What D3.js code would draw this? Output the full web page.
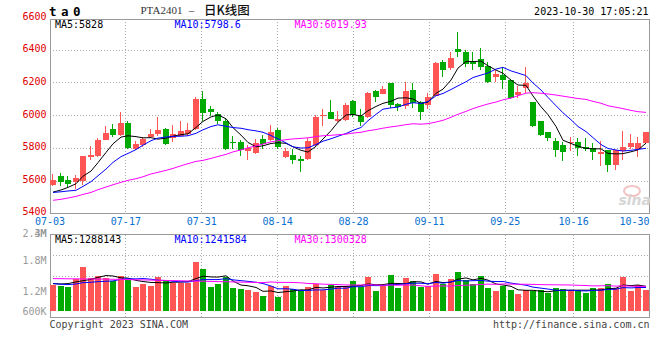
<!DOCTYPE html>
<html><head><meta charset="utf-8">
<script src="https://cdn.jsdelivr.net/npm/d3@7/dist/d3.min.js"></script>
<style>body{margin:0;background:#fff}svg{display:block}</style>
</head><body><svg id="c" width="660" height="360"></svg>
<script>
const dates = ["07-03","07-04","07-05","07-06","07-07","07-10","07-11","07-12","07-13","07-14",
"07-17","07-18","07-19","07-20","07-21","07-24","07-25","07-26","07-27","07-28",
"07-31","08-01","08-02","08-03","08-04","08-07","08-08","08-09","08-10","08-11",
"08-14","08-15","08-16","08-17","08-18","08-21","08-22","08-23","08-24","08-25",
"08-28","08-29","08-30","08-31","09-01","09-04","09-05","09-06","09-07","09-08",
"09-11","09-12","09-13","09-14","09-15","09-18","09-19","09-20","09-21","09-22",
"09-25","09-26","09-27","09-28","10-09","10-10","10-11","10-12","10-13","10-16",
"10-17","10-18","10-19","10-20","10-23","10-24","10-25","10-26","10-27","10-30"];
const opens = [5577,5632,5608,5591,5598,5744,5750,5852,5919,5883,
5954,5797,5822,5872,5889,5919,5862,5877,5889,5919,
6103,6041,6011,5970,5838,5838,5781,5771,5858,5848,
5913,5746,5760,5736,5736,5822,5995,6025,5964,5974,
6090,5999,5989,6151,6133,6198,6070,6056,6158,6086,
6062,6117,6329,6294,6406,6388,6337,6347,6306,6239,
6247,6215,6123,6168,6082,5964,5897,5846,5822,5832,
5838,5811,5801,5765,5787,5699,5781,5805,5797,5832];
const highs = [5644,5649,5632,5638,5754,5815,5862,5938,5950,6019,
5970,5842,5872,5917,5991,5925,5944,5970,5954,6111,
6151,6060,6019,5978,5877,5852,5822,5858,5883,5944,
5923,5801,5795,5750,5862,6005,6041,6096,6029,6080,
6095,6041,6147,6158,6182,6198,6076,6208,6198,6092,
6141,6327,6341,6392,6514,6402,6386,6416,6327,6280,
6296,6223,6184,6300,6086,5970,5897,5866,5836,5872,
5862,5866,5832,5842,5787,5787,5903,5889,5872,5901];
const lows = [5571,5567,5557,5551,5577,5726,5745,5848,5868,5873,
5795,5791,5811,5868,5877,5822,5836,5873,5877,5913,
5970,5995,5950,5787,5797,5750,5730,5767,5797,5842,
5795,5740,5706,5653,5730,5816,5934,5980,5958,5964,
5991,5934,5985,6086,6133,6046,6031,6039,6046,5974,
6039,6117,6239,6276,6361,6300,6276,6276,6198,6208,
6162,6100,6107,6141,5930,5873,5842,5744,5720,5781,
5750,5781,5730,5689,5653,5669,5730,5797,5744,5826];
const closes = [5604,5592,5583,5618,5750,5760,5852,5893,5883,5954,
5801,5826,5856,5889,5909,5828,5889,5903,5913,6103,
6015,6025,5964,5797,5830,5787,5801,5832,5826,5901,
5811,5781,5726,5720,5846,5989,6003,5980,5982,6066,
6003,5958,6141,6111,6162,6066,6054,6151,6076,6019,
6115,6320,6280,6353,6386,6314,6318,6296,6208,6257,
6215,6107,6147,6198,5934,5883,5866,5787,5775,5836,
5801,5797,5775,5775,5695,5787,5805,5832,5832,5901];
const volumes = [1331000,1311000,1278000,1442000,1678000,1462000,1501000,1462000,1396000,1501000,
1429000,1285000,1344000,1311000,1482000,1396000,1357000,1357000,1357000,1777000,
1632000,1285000,1344000,1482000,1259000,1239000,1219000,1180000,1101000,1298000,
1082000,1298000,1246000,1219000,1285000,1344000,1232000,1324000,1285000,1285000,
1396000,1278000,1482000,1200000,1298000,1521000,1265000,1462000,1396000,1278000,
1298000,1534000,1344000,1442000,1573000,1416000,1344000,1495000,1265000,1200000,
1311000,1219000,1147000,1219000,1200000,1219000,1167000,1259000,1246000,1219000,
1219000,1167000,1259000,1265000,1344000,1265000,1482000,1200000,1324000,1219000];
// moving-average values before a full window exists
const ma5Head = [5532,5545,5561,5583];
const ma10Head = [5530,5534,5539,5543,5567,5596,5632,5673,5714];
const ma30Head = [5482,5488,5496,5506,5518,5530,5547,5563,5577,5592,5604,5614,5626,5643,5653,
5665,5677,5693,5706,5720,5726,5738,5750,5763,5778,5790,5803,5815,5826];
const volMa5Head = [1351000,1344000,1351000,1384000];
const volMa10Head = [1351000,1338000,1331000,1344000,1370000,1377000,1390000,1397000,1403000];
const volMa30Head = [1449000,1447000,1445000,1444000,1442000,1441000,1439000,1438000,1436000,1433000,
1429000,1426000,1423000,1420000,1416000,1413000,1410000,1407000,1403000,1400000,
1397000,1394000,1390000,1387000,1384000,1380000,1377000,1374000,1370000];
const tickDates = ["07-03","07-17","07-31","08-14","08-28","09-11","09-25","10-16","10-30"];
const priceTicks = [6600,6400,6200,6000,5800,5600,5400];
const volTicks = [3000000,2400000,1800000,1200000,600000];
const volTickLabels = ["3M","2.4M","1.8M","1.2M","600K"];
const priceLegend = ["MA5:5828","MA10:5798.6","MA30:6019.93"];
const volLegend = ["MA5:1288143","MA10:1241584","MA30:1300328"];
const maColors = ["#000000","#0000ff","#ff00ff"];

const RED = "#ff5555", GREEN = "#00aa00";
const L = 50, R = 649.5;
const pTop = 19, pBottom = 213.7;
const vTop = 234.5, vBottom = 317.5, vBase = 311;
const MONO = "'DejaVu Sans Mono', monospace";

const svg = d3.select("#c");
const n = dates.length;
const xBand = d3.scaleBand().domain(d3.range(n)).range([L, 648.5]).paddingInner(0.2);
const xGrid = d3.scalePoint().domain(d3.range(n)).range([L, R]);
const yP = d3.scaleLinear().domain([5400, 6600]).range([213.7, 17.5]);
const yV = d3.scaleLinear().domain([0, 3000000]).range([352.5, 199.5]);

function movingAvg(arr, w, head) {
  return arr.map((v, i) => i < w - 1 ? head[i] : d3.mean(arr.slice(i - w + 1, i + 1)));
}
const priceMAs = [movingAvg(closes, 5, ma5Head), movingAvg(closes, 10, ma10Head), movingAvg(closes, 30, ma30Head)];
const volMAs = [movingAvg(volumes, 5, volMa5Head), movingAvg(volumes, 10, volMa10Head), movingAvg(volumes, 30, volMa30Head)];
const up = d3.range(n).map(i => closes[i] >= opens[i]);

const defs = svg.append("defs");
defs.append("clipPath").attr("id", "pc").append("rect").attr("x", L).attr("y", pTop).attr("width", R - L).attr("height", pBottom - pTop);
defs.append("clipPath").attr("id", "vc").append("rect").attr("x", L).attr("y", vTop).attr("width", R - L).attr("height", vBottom - vTop);

// grid
const gridIdx = tickDates.map(d => dates.indexOf(d)).filter(i => i > 0 && i < n - 1);
const grid = svg.append("g").attr("stroke", "#aaa").attr("stroke-dasharray", "1,2").attr("shape-rendering", "crispEdges");
gridIdx.forEach(i => {
  const gx = Math.floor(xGrid(i)) + 0.5;
  grid.append("line").attr("x1", gx).attr("x2", gx).attr("y1", pTop).attr("y2", pBottom);
  grid.append("line").attr("x1", gx).attr("x2", gx).attr("y1", vTop).attr("y2", vBottom);
});
priceTicks.slice(1, -1).forEach(v => {
  const gy = Math.floor(yP(v)) + 0.5;
  grid.append("line").attr("x1", L).attr("x2", R).attr("y1", gy).attr("y2", gy);
});
[1, 2, 3].forEach(k => {
  const gy = Math.floor(vTop + (vBottom - vTop) * k / 4) + 0.5;
  grid.append("line").attr("x1", L).attr("x2", R).attr("y1", gy).attr("y2", gy);
});

// borders
const bord = svg.append("g").attr("fill", "none").attr("stroke", "#999").attr("shape-rendering", "crispEdges");
bord.append("rect").attr("x", L + 0.5).attr("y", pTop + 0.5).attr("width", R - L - 1).attr("height", Math.round(pBottom - pTop) - 1);
bord.append("rect").attr("x", L + 0.5).attr("y", vTop).attr("width", R - L - 1).attr("height", vBottom - vTop);

// watermark
svg.append("ellipse").attr("cx", 632).attr("cy", 191).attr("rx", 8).attr("ry", 5).attr("fill", "none").attr("stroke", "#f2c2c2").attr("stroke-width", 2);
svg.append("text").attr("x", 651).attr("y", 205).attr("text-anchor", "end")
  .attr("font-family", "'DejaVu Sans', sans-serif").attr("font-size", 14).attr("font-weight", "bold").attr("font-style", "italic")
  .attr("fill", "#d6d6d6").text("sina");

// candles
const cg = svg.append("g").attr("clip-path", "url(#pc)");
d3.range(n).forEach(i => {
  const x = Math.round(xBand(i));
  const col = up[i] ? RED : GREEN;
  const top = Math.round(yP(Math.max(opens[i], closes[i])));
  const bot = Math.round(yP(Math.min(opens[i], closes[i])));
  cg.append("line").attr("x1", x + 2.5).attr("x2", x + 2.5).attr("y1", yP(highs[i])).attr("y2", yP(lows[i]))
    .attr("stroke", col).attr("stroke-width", 1).attr("shape-rendering", "crispEdges");
  cg.append("rect").attr("x", x).attr("y", top).attr("width", 6).attr("height", Math.max(1, bot - top))
    .attr("fill", col).attr("shape-rendering", "crispEdges");
});
const lineP = d3.line().x((d, i) => Math.round(xBand(i)) + 3).y(d => yP(d));
priceMAs.forEach((arr, k) => {
  cg.append("path").attr("d", lineP(arr)).attr("fill", "none").attr("stroke", maColors[k]).attr("stroke-width", 1);
});

// volume
const vg = svg.append("g").attr("clip-path", "url(#vc)");
d3.range(n).forEach(i => {
  const x = Math.round(xBand(i));
  const top = Math.round(yV(volumes[i]));
  vg.append("rect").attr("x", x).attr("y", top).attr("width", 6).attr("height", vBase - top)
    .attr("fill", up[i] ? RED : GREEN).attr("shape-rendering", "crispEdges");
});
const lineV = d3.line().x((d, i) => Math.round(xBand(i)) + 3).y(d => yV(d));
volMAs.forEach((arr, k) => {
  vg.append("path").attr("d", lineV(arr)).attr("fill", "none").attr("stroke", maColors[k]).attr("stroke-width", 1);
});

// axis labels
const txt = svg.append("g").attr("font-family", MONO).attr("font-size", 10);
priceTicks.forEach(v => {
  txt.append("text").attr("x", 46.5).attr("y", Math.min(yP(v) + 2, 214.5)).attr("text-anchor", "end").attr("fill", "#dd0000").text(v);
});
volTicks.forEach((v, k) => {
  // labels kept clear of the date row above the volume panel and of the panel floor
  const ly = Math.max(Math.min(yV(v), vBase), vTop - 1.5);
  txt.append("text").attr("x", 46.5).attr("y", ly + 3.5).attr("text-anchor", "end").attr("fill", "#999").text(volTickLabels[k]);
});
tickDates.forEach(d => {
  const i = dates.indexOf(d);
  const last = i === n - 1;
  txt.append("text").attr("x", last ? R : xGrid(i)).attr("y", 224.5)
    .attr("text-anchor", last ? "end" : "middle").attr("fill", "#0a6fd0").text(d);
});
const legX = [55, 174.5, 294.5];
priceLegend.forEach((s, k) => txt.append("text").attr("x", legX[k]).attr("y", 27.5).attr("fill", maColors[k]).text(s));
volLegend.forEach((s, k) => txt.append("text").attr("x", legX[k]).attr("y", 242.5).attr("fill", maColors[k]).text(s));

// header
svg.append("text").attr("x", 49).attr("y", 15.5).attr("font-family", MONO).attr("font-size", 12.5).attr("font-weight", "bold")
  .attr("letter-spacing", 4.5).attr("fill", "#000").text("ta0");
svg.append("text").attr("x", 140.5).attr("y", 13.5).attr("font-family", "'Liberation Serif', serif").attr("font-size", 11)
  .attr("fill", "#333").text("PTA2401");
svg.append("text").attr("x", 191.5).attr("y", 13.5).attr("text-anchor", "middle").attr("font-family", "'Liberation Serif', serif").attr("font-size", 11)
  .attr("fill", "#333").text("–");
svg.append("text").attr("x", 204).attr("y", 14.5).attr("font-family", "'Noto Sans CJK SC', sans-serif").attr("font-size", 12.5).attr("font-weight", 500)
  .attr("fill", "#111").text("日K线图");
svg.append("text").attr("x", 648.5).attr("y", 15.3).attr("text-anchor", "end").attr("font-family", MONO).attr("font-size", 10)
  .attr("fill", "#000").text("2023-10-30 17:05:21");
svg.append("text").attr("x", 49.5).attr("y", 327.5).attr("font-family", MONO).attr("font-size", 10).attr("fill", "#444").text("Copyright 2023 SINA.COM");
svg.append("text").attr("x", 649.5).attr("y", 327.5).attr("text-anchor", "end").attr("font-family", MONO).attr("font-size", 10).attr("fill", "#444").text("http://finance.sina.com.cn");
</script></body></html>
